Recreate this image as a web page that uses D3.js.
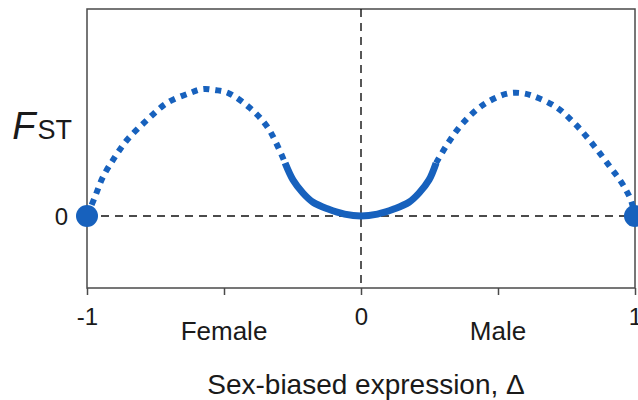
<!DOCTYPE html>
<html>
<head>
<meta charset="utf-8">
<script src="https://cdn.jsdelivr.net/npm/d3@7"></script>
<style>
  body { margin: 0; background: #fff; }
  text { font-family: "Liberation Sans", Arial, sans-serif; fill: #1a1a1a; }
</style>
</head>
<body>
<svg id="chart" width="638" height="400"></svg>
<script>
// left dotted arm (female side)
const leftX = [-1, -0.971, -0.942, -0.898, -0.854, -0.781, -0.708, -0.624, -0.577, -0.533, -0.485, -0.405, -0.339, -0.277];
const leftY = [0, 0.15, 0.307, 0.465, 0.598, 0.756, 0.89, 0.969, 1.0, 0.992, 0.969, 0.85, 0.693, 0.417];
// solid middle part
const midX = [-0.277, -0.248, -0.212, -0.175, -0.12, -0.06, 0, 0.06, 0.12, 0.175, 0.212, 0.248, 0.274];
const midY = [0.417, 0.283, 0.181, 0.108, 0.055, 0.015, 0, 0.015, 0.055, 0.108, 0.181, 0.283, 0.417];
// right dotted arm (male side)
const rightX = [0.274, 0.318, 0.372, 0.445, 0.529, 0.58, 0.628, 0.712, 0.785, 0.854, 0.912, 0.945, 0.967, 0.985, 1];
const rightY = [0.417, 0.575, 0.732, 0.874, 0.961, 0.969, 0.945, 0.858, 0.717, 0.543, 0.378, 0.283, 0.205, 0.126, 0];
// end points
const endX = [-1, 1];
const endY = [0, 0];

const xTicks = [-1, -0.5, 0, 0.5, 1];
const xTickLabels = ["-1", "", "0", "", "1"];
const sideLabels = [{x: -0.5, t: "Female"}, {x: 0.5, t: "Male"}];

const blue = "#1761bd";
const margin = {top: 9, right: 3, bottom: 112, left: 87};
const svg = d3.select("#chart"),
  width = +svg.attr("width") - margin.left - margin.right,
  height = +svg.attr("height") - margin.top - margin.bottom,
  g = svg.append("g").attr("transform", `translate(${margin.left}, ${margin.top})`);

const x = d3.scaleLinear().domain([-1, 1]).range([0, width]);
const y = d3.scaleLinear().domain([-0.567, 1.63]).range([height, 0]);

const zip = (xs, ys) => xs.map((v, i) => [v, ys[i]]);

// frame
g.append("rect")
  .attr("width", width).attr("height", height)
  .attr("fill", "none").attr("stroke", "#4a4a4a").attr("stroke-width", 1.5);

// dashed reference lines
g.append("line")
  .attr("x1", 0).attr("x2", width).attr("y1", y(0)).attr("y2", y(0))
  .attr("stroke", "#111").attr("stroke-width", 1.4).attr("stroke-dasharray", "8,6");
g.append("line")
  .attr("x1", x(0)).attr("x2", x(0)).attr("y1", 0).attr("y2", height)
  .attr("stroke", "#111").attr("stroke-width", 1.4).attr("stroke-dasharray", "8,6");

// x axis ticks
const xAxis = g.append("g")
  .attr("transform", `translate(0, ${height})`)
  .call(d3.axisBottom(x).tickValues(xTicks).tickSize(7).tickPadding(13)
    .tickFormat((d, i) => xTickLabels[i]));
xAxis.select(".domain").remove();
xAxis.selectAll("line").attr("stroke", "#4a4a4a").attr("stroke-width", 1.5);
xAxis.selectAll("text")
  .style("font-family", "'Liberation Sans', Arial, sans-serif")
  .style("font-size", "24px").attr("fill", "#1a1a1a");

// y tick label
g.append("text")
  .attr("x", -19).attr("y", y(0)).attr("dy", "0.36em")
  .attr("text-anchor", "end").style("font-size", "24px").text("0");

// y label F_ST
const fst = g.append("text")
  .attr("x", -15).attr("y", 130)
  .attr("text-anchor", "end");
fst.append("tspan").style("font-size", "38px").style("font-style", "italic").text("F");
fst.append("tspan").attr("dx", 2).style("font-size", "27px").text("ST");

// line pieces
const line = d3.line().x(d => x(d[0])).y(d => y(d[1])).curve(d3.curveCatmullRom.alpha(0.5));

g.append("path")
  .datum(zip(leftX, leftY))
  .attr("d", line).attr("fill", "none")
  .attr("stroke", blue).attr("stroke-width", 6).attr("stroke-dasharray", "6,6");
g.append("path")
  .datum(zip(rightX, rightY))
  .attr("d", line).attr("fill", "none")
  .attr("stroke", blue).attr("stroke-width", 6).attr("stroke-dasharray", "6,6");
g.append("path")
  .datum(zip(midX, midY))
  .attr("d", line).attr("fill", "none")
  .attr("stroke", blue).attr("stroke-width", 7);

// end points
g.selectAll(".endpt")
  .data(zip(endX, endY))
  .enter().append("circle")
  .attr("class", "endpt")
  .attr("cx", d => x(d[0])).attr("cy", d => y(d[1]))
  .attr("r", 11).attr("fill", blue);

// Female / Male labels
g.selectAll(".side")
  .data(sideLabels)
  .enter().append("text")
  .attr("class", "side")
  .attr("x", d => x(d.x)).attr("y", height + 52)
  .attr("text-anchor", "middle").style("font-size", "26px")
  .text(d => d.t);

// axis title
svg.append("text")
  .attr("x", 366).attr("y", 394)
  .attr("text-anchor", "middle").style("font-size", "28px")
  .text("Sex-biased expression, Δ");
</script>
</body>
</html>
